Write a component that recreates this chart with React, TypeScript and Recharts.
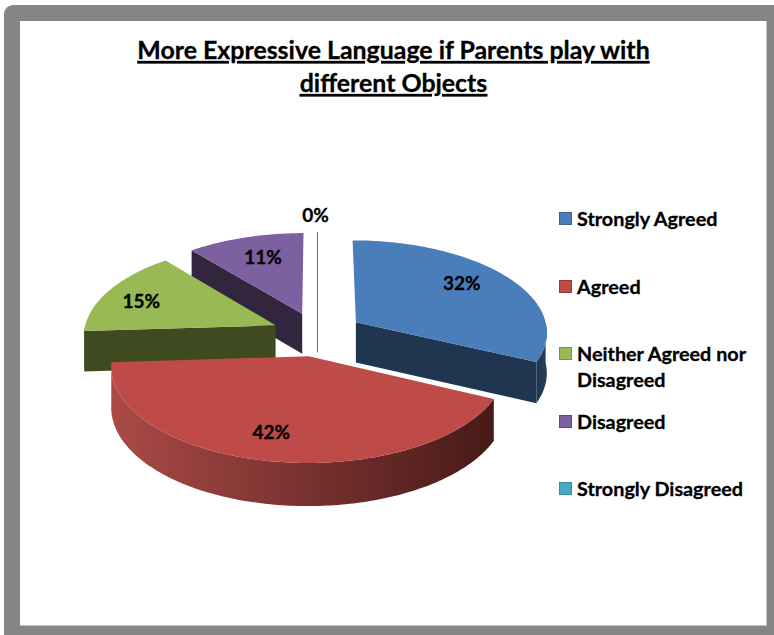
import { PieChart, Pie, Legend } from "recharts";

const CATEGORIES = [
  "Strongly Agreed",
  "Agreed",
  "Neither Agreed nor Disagreed",
  "Disagreed",
  "Strongly Disagreed",
];
const VALUES = [32, 42, 15, 11, 0];
const TOP_COLORS = ["#4A7EBB", "#BE4B48", "#98B954", "#7D60A0", "#46AAC5"];
const SIDE_LIGHT = ["#20354F", "#AB4A47", "#3F4A20", "#32263F", "#2F7E96"];
const SIDE_DARK = ["#23405F", "#471A18", "#3F4A20", "#32263F", "#2F7E96"];
const LEGEND_BORDERS = ["#3A6595", "#9A3A38", "#77943F", "#5F4880", "#358AA0"];

// how far along its radius each percentage sits, and a small nudge
const LABEL_REACH = [0.72, 0.75, 0.8, 0.72, 1.23];
const LABEL_NUDGE_X = [-4, -7, 0, 3, -2];
const LABEL_NUDGE_Y = [-6, -1, 3, -1, -1];

const FONT = "Lato, Carlito, sans-serif";
const TILT = 0.479;
const PERSPECTIVE = 0.096;
const EXPLODE = 0.24;
const DEPTH = 40.5;
const CX = 317.5;
const CY = 334;
const RADIUS = 192;

// painted back to front, so the slices run counter-clockwise from the top
const rows = CATEGORIES.map((name, i) => ({
  name,
  value: VALUES[i],
  fill: TOP_COLORS[i],
})).reverse();

const rad = (deg: number) => (deg * Math.PI) / 180;

// flat disc position (in radii) to screen position
function project(cx: number, cy: number, r: number, u: number, v: number) {
  const w = 1 - PERSPECTIVE * v;
  return { x: cx + (r * u) / w, y: cy + (r * TILT * v) / w, drop: DEPTH / Math.sqrt(w) };
}

function rim(mid: number, angle: number, reach = 1) {
  return {
    u: EXPLODE * Math.cos(rad(mid)) + reach * Math.cos(rad(angle)),
    v: -EXPLODE * Math.sin(rad(mid)) - reach * Math.sin(rad(angle)),
  };
}

function toPath(points: { x: number; y: number }[]) {
  return points.map((p, i) => `${i ? "L" : "M"}${p.x.toFixed(1)} ${p.y.toFixed(1)}`).join(" ") + " Z";
}

function Slice(props: any) {
  const { cx, cy, outerRadius: r, startAngle, endAngle, name } = props;
  const idx = CATEGORIES.indexOf(name);
  const a0 = Math.min(startAngle, endAngle);
  const a1 = Math.max(startAngle, endAngle);
  const mid = (a0 + a1) / 2;
  const at = (angle: number, reach = 1) => {
    const p = rim(mid, angle, reach);
    return project(cx, cy, r, p.u, p.v);
  };
  const arc = (from: number, to: number) => {
    const pts = [];
    const steps = Math.max(1, Math.ceil(to - from));
    for (let s = 0; s <= steps; s++) pts.push(at(from + ((to - from) * s) / steps));
    return pts;
  };
  const lowered = (p: { x: number; y: number; drop: number }) => ({ x: p.x, y: p.y + p.drop });
  const cutFace = (angle: number) => {
    const apex = at(angle, 0);
    const end = at(angle);
    return toPath([apex, end, lowered(end), lowered(apex)]);
  };

  // walls only show on the part of the rim turned towards the viewer
  const walls: [number, number][] = [];
  for (const [lo, hi] of [[180, 360], [540, 720]]) {
    const from = Math.max(a0, lo);
    const to = Math.min(a1, hi);
    if (to > from) walls.push([from, to]);
  }
  const gradId = `wall-${idx}`;
  const side = SIDE_LIGHT[idx];

  // an empty slice collapses to a thin upright sheet
  if (a1 - a0 < 0.01) {
    const end = lowered(at(a0, 0));
    const back = at(a0);
    return <path d={`M${back.x.toFixed(1)} ${back.y.toFixed(1)} L${end.x.toFixed(1)} ${end.y.toFixed(1)}`} stroke={side} strokeWidth={1} fill="none" />;
  }

  return (
    <g>
      <defs>
        <linearGradient id={gradId} x1="0" y1="0" x2="1" y2="0">
          <stop offset="0" stopColor={SIDE_LIGHT[idx]} />
          <stop offset="1" stopColor={SIDE_DARK[idx]} />
        </linearGradient>
      </defs>
      {Math.sin(rad(a0 - 90)) < 0 && <path d={cutFace(a0)} fill={side} />}
      {Math.sin(rad(a1 + 90)) < 0 && <path d={cutFace(a1)} fill={side} />}
      {walls.map(([from, to]) => {
        const top = arc(from, to);
        return (
          <path
            key={from}
            d={toPath([...top, ...top.map(lowered).reverse()])}
            fill={`url(#${gradId})`}
          />
        );
      })}
      <path d={toPath([at(mid, 0), ...arc(a0, a1)])} fill={TOP_COLORS[idx]} />
    </g>
  );
}

function PercentLabel(props: any) {
  const { cx, cy, outerRadius: r, midAngle, name, value } = props;
  const idx = CATEGORIES.indexOf(name);
  const p = rim(midAngle, midAngle, LABEL_REACH[idx]);
  const pos = project(cx, cy, r, p.u, p.v);
  return (
    <text
      x={pos.x + LABEL_NUDGE_X[idx]}
      y={pos.y + LABEL_NUDGE_Y[idx]}
      textAnchor="middle"
      dominantBaseline="central"
      fontFamily={FONT}
      fontWeight={700}
      fontSize={19}
      stroke="#000"
      strokeWidth={0.3}
      fill="#000"
    >
      {value}%
    </text>
  );
}

function LegendList() {
  return (
    <div
      style={{
        fontFamily: FONT,
        fontWeight: 700,
        fontSize: 19.8,
        lineHeight: "26px",
        color: "#000",
        WebkitTextStroke: "0.3px #000",
      }}
    >
      {CATEGORIES.map((name, i) => (
        <div key={name} style={{ height: 67.6, display: "flex", alignItems: "flex-start" }}>
          <span
            style={{
              width: 11,
              height: 11,
              marginTop: 6,
              marginRight: 5,
              flex: "none",
              background: TOP_COLORS[i],
              border: `1px solid ${LEGEND_BORDERS[i]}`,
            }}
          />
          <span style={{ width: 186, position: "relative", top: -1 }}>{name}</span>
        </div>
      ))}
    </div>
  );
}

export default function App() {
  const titleStyle = {
    textAnchor: "middle",
    fontFamily: FONT,
    fontWeight: 700,
    fontSize: 24.9,
    textDecoration: "underline",
    fill: "#000",
    stroke: "#000",
    strokeWidth: 0.3,
  } as const;
  return (
    <div style={{ position: "absolute", left: 0, top: 0, width: 774, height: 635, overflow: "hidden", background: "#fff" }}>
      <div
        style={{
          position: "absolute",
          left: 4,
          top: 5,
          width: 770,
          height: 630,
          background: "#858585",
          borderTopLeftRadius: 9,
        }}
      />
      <div
        style={{
          position: "absolute",
          left: 20,
          top: 21,
          width: 746,
          height: 604,
          background: "#fff",
          borderRight: "1px solid #c4c4c4",
          borderBottom: "1px solid #c4c4c4",
        }}
      />
      <div style={{ position: "absolute", left: 0, top: 0 }}>
        <PieChart width={774} height={635} margin={{ top: 0, right: 0, bottom: 0, left: 0 }}>
          <text x={393.5} y={59} style={titleStyle}>
            More Expressive Language if Parents play with
          </text>
          <text x={393.5} y={92} style={titleStyle}>
            different Objects
          </text>
          <Pie
            data={rows}
            dataKey="value"
            nameKey="name"
            cx={CX}
            cy={CY}
            innerRadius={0}
            outerRadius={RADIUS}
            startAngle={90}
            endAngle={450}
            stroke="none"
            shape={Slice}
            label={PercentLabel}
            labelLine={false}
            isAnimationActive={false}
          />
          <Legend
            content={LegendList}
            wrapperStyle={{ position: "absolute", left: 559, top: 206, width: 205 }}
          />
        </PieChart>
      </div>
    </div>
  );
}
